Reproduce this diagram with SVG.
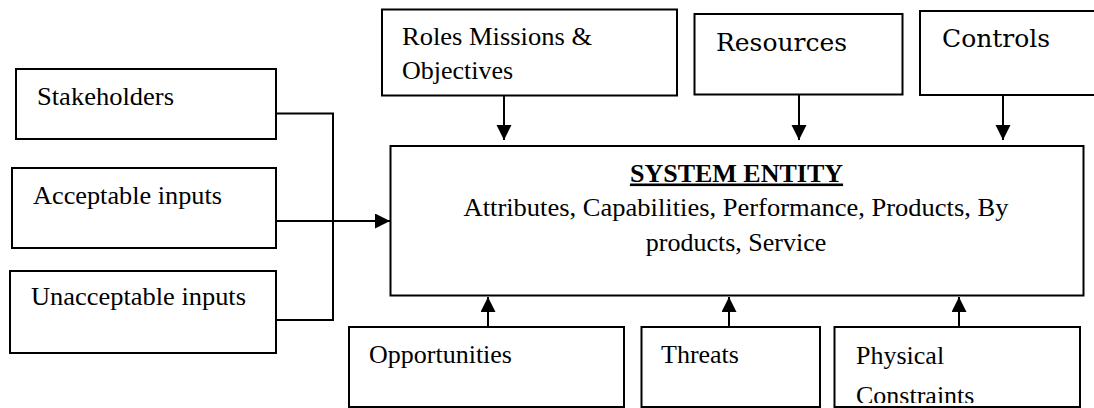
<svg xmlns="http://www.w3.org/2000/svg" width="1094" height="408" viewBox="0 0 1094 408">
<style>
.box{fill:#fff;stroke:#000;stroke-width:2}
.t{font-family:"Liberation Serif","Times New Roman",serif;font-size:26px;fill:#000}
.c{font-family:"DejaVu Serif","Liberation Serif",serif;font-size:25px;fill:#000}
.ln{fill:none;stroke:#000;stroke-width:2}
</style>
<defs>
<marker id="ah" markerWidth="16" markerHeight="16" refX="15" refY="7.5" orient="auto" markerUnits="userSpaceOnUse">
<path d="M0,0 L15,7.5 L0,15 Z" fill="#000"/>
</marker>
<clipPath id="physclip"><rect x="835" y="328" width="244" height="75"/></clipPath>
</defs>
<rect x="0" y="0" width="1094" height="408" fill="#fff"/>

<g id="connectors">
<polyline class="ln" points="276,113.5 333,113.5 333,320 274,320"/>
<line class="ln" x1="276" y1="221" x2="390" y2="221" marker-end="url(#ah)"/>
<line class="ln" x1="504" y1="95" x2="504" y2="140" marker-end="url(#ah)"/>
<line class="ln" x1="799" y1="95" x2="799" y2="140" marker-end="url(#ah)"/>
<line class="ln" x1="1003" y1="95" x2="1003" y2="140" marker-end="url(#ah)"/>
<line class="ln" x1="488" y1="327" x2="488" y2="297" marker-end="url(#ah)"/>
<line class="ln" x1="729" y1="327" x2="729" y2="297" marker-end="url(#ah)"/>
<line class="ln" x1="959" y1="327" x2="959" y2="297" marker-end="url(#ah)"/>
</g>

<g id="stakeholders">
<rect class="box" x="16" y="69" width="260" height="70"/>
<text class="t" x="37" y="105" textLength="137" lengthAdjust="spacingAndGlyphs">Stakeholders</text>
</g>
<g id="acceptable-inputs">
<rect class="box" x="12" y="168" width="264" height="80"/>
<text class="t" x="33" y="204" textLength="189" lengthAdjust="spacingAndGlyphs">Acceptable inputs</text>
</g>
<g id="unacceptable-inputs">
<rect class="box" x="10" y="271" width="266" height="82"/>
<text class="t" x="31" y="305" textLength="215" lengthAdjust="spacingAndGlyphs">Unacceptable inputs</text>
</g>

<g id="roles">
<rect class="box" x="382" y="9.5" width="295" height="86"/>
<text class="t" x="402" y="45" textLength="190" lengthAdjust="spacingAndGlyphs">Roles Missions &amp;</text>
<text class="t" x="402" y="78.5">Objectives</text>
</g>
<g id="resources">
<rect class="box" x="694.5" y="14" width="208" height="80.5"/>
<text class="c" x="716" y="51">Resources</text>
</g>
<g id="controls">
<rect class="box" x="920" y="11" width="180" height="84"/>
<text class="c" x="942" y="47">Controls</text>
</g>

<g id="system-entity">
<rect class="box" x="390.5" y="146" width="693" height="149.5"/>
<text class="t" x="736.5" y="181.5" text-anchor="middle" font-weight="bold" text-decoration="underline">SYSTEM ENTITY</text>
<text class="t" x="736" y="216" text-anchor="middle" textLength="545" lengthAdjust="spacingAndGlyphs">Attributes, Capabilities, Performance, Products, By</text>
<text class="t" x="736" y="251" text-anchor="middle">products, Service</text>
</g>

<g id="opportunities">
<rect class="box" x="349" y="327" width="275" height="80"/>
<text class="t" x="369" y="363">Opportunities</text>
</g>
<g id="threats">
<rect class="box" x="641.5" y="327" width="178.5" height="80"/>
<text class="t" x="661" y="363">Threats</text>
</g>
<g id="physical-constraints">
<rect class="box" x="834.5" y="327" width="245.5" height="80"/>
<text class="t" x="856" y="364">Physical</text>
<text class="t" x="856" y="404" clip-path="url(#physclip)">Constraints</text>
</g>
</svg>
